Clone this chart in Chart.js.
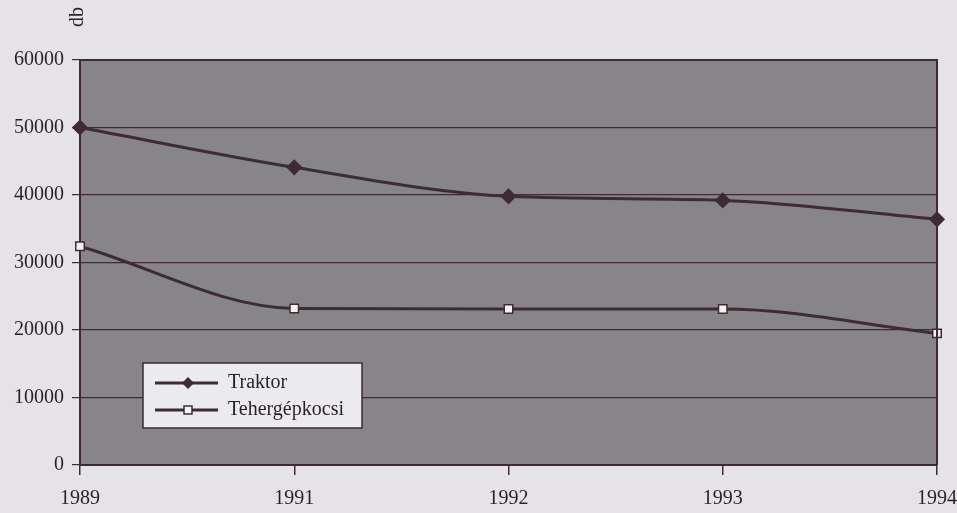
<!DOCTYPE html>
<html>
<head>
<meta charset="utf-8">
<script src="https://cdn.jsdelivr.net/npm/chart.js@4/dist/chart.umd.min.js"></script>
<style>
  html, body { margin: 0; padding: 0; background: #e5e3e7; }
  #wrap { width: 957px; height: 513px; }
</style>
</head>
<body>
<div id="wrap"><canvas id="chart" width="957" height="513"></canvas></div>
<script>
const years = ['1989', '1991', '1992', '1993', '1994'];
const traktor = [50000, 44100, 39800, 39200, 36400];
const teher = [32400, 23200, 23100, 23100, 19500];
const yTicks = [0, 10000, 20000, 30000, 40000, 50000, 60000];

const ink = '#3e2b34';
const textInk = '#2a1f26';
const serif = "'Liberation Serif', 'DejaVu Serif', serif";

// grey plot area
const plotBg = {
  id: 'plotBg',
  beforeDraw(chart) {
    const { ctx, chartArea: a } = chart;
    ctx.save();
    ctx.fillStyle = '#878588';
    ctx.fillRect(a.left, a.top, a.right - a.left, a.bottom - a.top);
    ctx.restore();
  },
  afterDatasetsDraw(chart) {
    const { ctx, chartArea: a } = chart;
    ctx.save();
    ctx.strokeStyle = ink;
    ctx.lineWidth = 2;
    ctx.beginPath();
    ctx.moveTo(a.left, a.top);
    ctx.lineTo(a.right, a.top);
    ctx.lineTo(a.right, a.bottom);
    ctx.stroke();
    ctx.restore();
  }
};

// axis title "db" and legend box inside the plot
const extras = {
  id: 'extras',
  afterDraw(chart) {
    const { ctx, chartArea: a } = chart;
    ctx.save();
    ctx.fillStyle = textInk;
    ctx.font = '20px ' + serif;
    ctx.translate(a.left - 2, 17);
    ctx.rotate(-Math.PI / 2);
    ctx.textAlign = 'center';
    ctx.textBaseline = 'middle';
    ctx.fillText('db', 0, 0);
    ctx.restore();

    const bx = 143, by = 363, bw = 219, bh = 65;
    ctx.save();
    ctx.fillStyle = '#ebeaec';
    ctx.strokeStyle = ink;
    ctx.lineWidth = 1.5;
    ctx.fillRect(bx, by, bw, bh);
    ctx.strokeRect(bx, by, bw, bh);
    chart.data.datasets.forEach((ds, i) => {
      const y = by + 20 + i * 27;
      ctx.strokeStyle = ink;
      ctx.lineWidth = 3;
      ctx.beginPath();
      ctx.moveTo(bx + 12, y);
      ctx.lineTo(bx + 75, y);
      ctx.stroke();
      const mx = bx + 45;
      ctx.fillStyle = ds.pointBackgroundColor;
      ctx.lineWidth = 1.5;
      ctx.beginPath();
      if (ds.pointStyle === 'rectRot') {
        ctx.moveTo(mx, y - 6); ctx.lineTo(mx + 6, y); ctx.lineTo(mx, y + 6); ctx.lineTo(mx - 6, y);
        ctx.closePath();
        ctx.fill();
      } else {
        ctx.rect(mx - 4, y - 4, 8, 8);
        ctx.fill();
        ctx.stroke();
      }
      ctx.fillStyle = textInk;
      ctx.font = '20px ' + serif;
      ctx.textBaseline = 'middle';
      ctx.fillText(ds.label, bx + 85, y);
    });
    ctx.restore();
  }
};

new Chart(document.getElementById('chart'), {
  type: 'line',
  data: {
    labels: years,
    datasets: [
      {
        label: 'Traktor',
        data: traktor,
        borderColor: ink,
        borderWidth: 3,
        pointStyle: 'rectRot',
        pointRadius: 6,
        pointBackgroundColor: ink,
        pointBorderColor: ink,
        cubicInterpolationMode: 'monotone'
      },
      {
        label: 'Tehergépkocsi',
        data: teher,
        borderColor: ink,
        borderWidth: 3,
        pointStyle: 'rect',
        pointRadius: 6,
        pointBackgroundColor: '#f2f2f2',
        pointBorderColor: ink,
        pointBorderWidth: 1.5,
        cubicInterpolationMode: 'monotone'
      }
    ]
  },
  options: {
    responsive: false,
    animation: false,
    layout: { padding: { top: 60, right: 0, left: 0, bottom: 0 } },
    plugins: { legend: { display: false }, tooltip: { enabled: false } },
    scales: {
      x: {
        offset: false,
        grid: { drawOnChartArea: false, drawTicks: true, tickLength: 10, color: ink, lineWidth: 1.5 },
        border: { color: ink, width: 2 },
        ticks: { color: textInk, font: { family: serif, size: 20 }, padding: 12, maxRotation: 0 },
        afterFit(scale) {
          scale.height = 48;
          scale.paddingRight = 20; // just enough room for "1994"
        }
      },
      y: {
        min: 0,
        max: 60000,
        afterBuildTicks(scale) { scale.ticks = yTicks.map(v => ({ value: v })); },
        grid: { color: ink, lineWidth: 1.2, tickLength: 8 },
        border: { color: ink, width: 2 },
        ticks: {
          color: textInk,
          font: { family: serif, size: 20 },
          padding: 8,
          callback: v => String(v)
        },
        afterFit(scale) { scale.width = 80; }
      }
    }
  },
  plugins: [plotBg, extras]
});
</script>
</body>
</html>
